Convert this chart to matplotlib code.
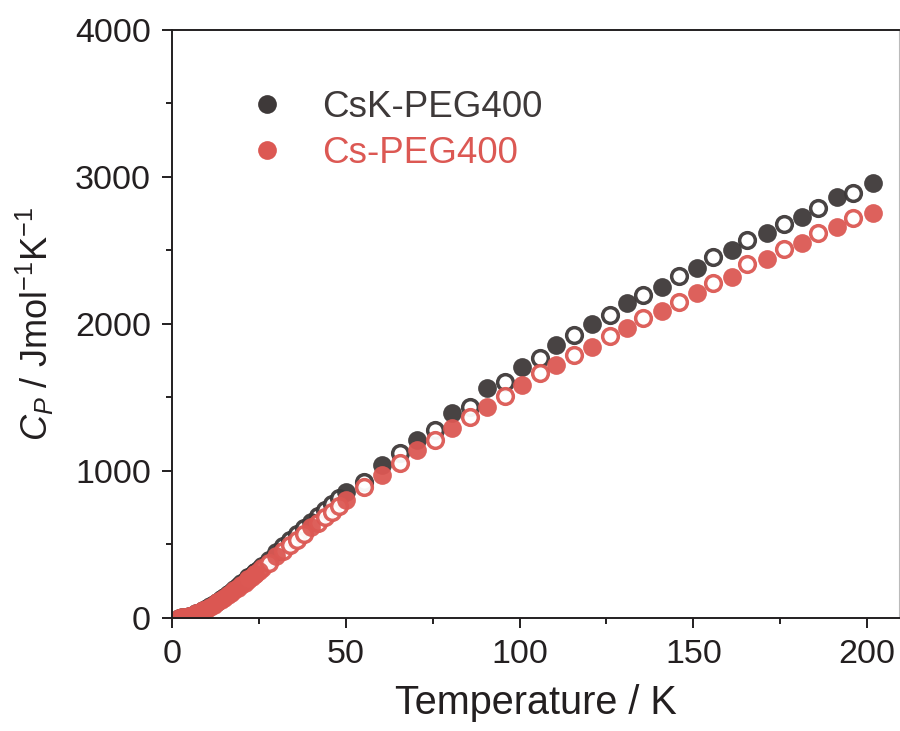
import matplotlib
matplotlib.use("Agg")
import matplotlib.pyplot as plt
from matplotlib.lines import Line2D
from matplotlib.ticker import MultipleLocator

plt.rcParams['font.family'] = ['Liberation Sans', 'DejaVu Sans']
plt.rcParams['mathtext.fontset'] = 'custom'
plt.rcParams['mathtext.rm'] = 'Liberation Sans'
plt.rcParams['mathtext.it'] = 'Liberation Sans:italic'

# --- data ---
# filled symbols (dense low-T run, then every ~10 K)
t_filled = [2, 3, 4, 5, 6, 7, 8, 9, 10, 11, 12, 13, 14, 15, 16, 17, 18, 19, 20,
            21, 22, 23, 24, 25,
            30, 40, 50.2, 60.3, 70.5, 80.6, 90.6, 100.7, 110.6, 120.9, 131, 141,
            151, 161.2, 171.2, 181.3, 191.4, 201.7]
csk_filled = [2, 5, 10, 16, 23, 33, 43, 55, 67, 81, 96, 111, 127, 144, 161, 179,
              197, 216, 235, 254, 274, 294, 314, 334,
              451, 655, 859, 1041, 1211, 1395, 1565, 1707, 1857, 2000, 2143, 2252,
              2381, 2503, 2619, 2728, 2864, 2959]
cs_filled = [2, 5, 9, 15, 22, 31, 41, 52, 64, 77, 91, 106, 121, 137, 153, 170,
             187, 205, 223, 241, 260, 279, 298, 317,
             425, 621, 803, 973, 1143, 1293, 1435, 1585, 1721, 1844, 1975, 2088,
             2211, 2320, 2442, 2551, 2660, 2755]

# open symbols
t_open = [22, 24, 26, 28, 32, 34, 36, 38, 42, 44, 46, 48,
          55.2, 65.6, 75.7, 85.8, 95.8, 105.8, 115.8, 126, 135.5, 146, 155.7,
          165.5, 176, 186, 196]
csk_open = [276, 316, 356, 396, 487, 528, 569, 610, 695, 735, 775, 815,
            927, 1122, 1279, 1435, 1605, 1769, 1925, 2061, 2197, 2327, 2456,
            2571, 2680, 2789, 2891]
cs_open = [262, 300, 338, 377, 455, 494, 532, 570, 646, 684, 722, 760,
           893, 1054, 1211, 1367, 1510, 1667, 1789, 1918, 2041, 2150, 2279,
           2408, 2510, 2619, 2721]

labels = ['CsK-PEG400', 'Cs-PEG400']
c_dark = '#3e3939'
c_red = '#dc5853'

fig = plt.figure(figsize=(9, 7.31), dpi=100)
ax = fig.add_axes([0.191, 0.1546, 0.808, 0.8044])

ms = 13.5
for t_f, y_f, t_o, y_o, col in [(t_filled, csk_filled, t_open, csk_open, c_dark),
                                (t_filled, cs_filled, t_open, cs_open, c_red)]:
    ax.plot(t_o, y_o, 'o', ms=ms - 2.2, mfc='white', mec=col, mew=2.5,
            alpha=0.95, ls='none')
    ax.plot(t_f, y_f, 'o', ms=ms, mfc=col, mec='none', alpha=0.95, ls='none')

ax.set_xlim(0, 209.2)
ax.set_ylim(0, 4000)
ax.xaxis.set_major_locator(MultipleLocator(50))
ax.xaxis.set_minor_locator(MultipleLocator(25))
ax.yaxis.set_major_locator(MultipleLocator(1000))
ax.yaxis.set_minor_locator(MultipleLocator(500))

for s in ax.spines.values():
    s.set_linewidth(1.4)
    s.set_color('#231f20')
ax.spines['right'].set_linewidth(0.8)
ax.spines['right'].set_color('#bbbbbb')

ax.tick_params(which='major', direction='out', length=7, width=1.4,
               labelsize=24.5, pad=8, colors='#231f20', top=False, right=False)
ax.tick_params(which='minor', direction='out', length=4, width=1.4,
               colors='#231f20', top=False, right=False)

ax.set_xlabel('Temperature / K', fontsize=28.5, color='#231f20', labelpad=10)
ax.set_ylabel(r'$C_P$ / Jmol$^{-1}$K$^{-1}$', fontsize=26, color='#231f20',
              labelpad=14)

handles = [Line2D([], [], marker='o', ls='none', ms=ms, mfc=c_dark, mec='none'),
           Line2D([], [], marker='o', ls='none', ms=ms, mfc=c_red, mec='none')]
leg = ax.legend(handles, labels, loc='upper left', bbox_to_anchor=(0.105, 0.898),
                frameon=False, fontsize=26.5, handlelength=1.0, handletextpad=1.0,
                labelspacing=0.3, borderpad=0, borderaxespad=0)
for txt, col in zip(leg.get_texts(), [c_dark, c_red]):
    txt.set_color(col)

fig.savefig('out.png', dpi=100)
